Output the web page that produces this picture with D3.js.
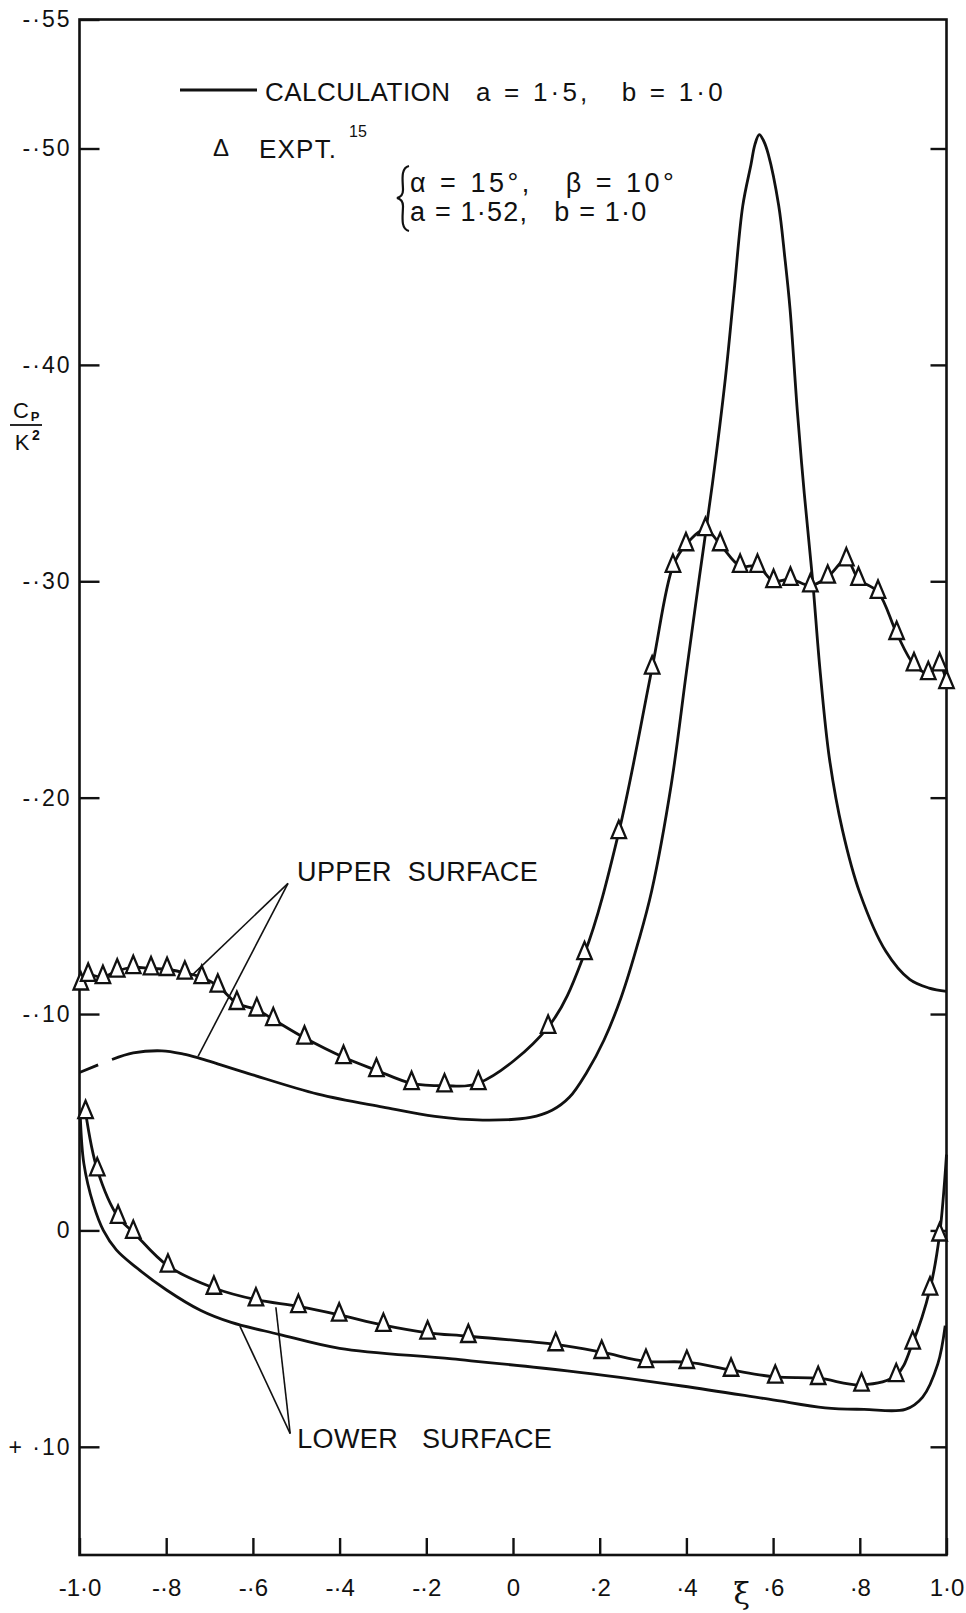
<!DOCTYPE html>
<html>
<head>
<meta charset="utf-8">
<script src="https://cdn.jsdelivr.net/npm/d3@7"></script>
<style>
  body { margin: 0; background: #fff; }
  svg { display: block; }
  text { font-family: "Liberation Sans", "DejaVu Sans", sans-serif; fill: #111; white-space: pre; }
</style>
</head>
<body>
<svg id="chart"></svg>
<script>
// Tick positions and labels, written as on the original drawing.
const xiTicks = [-1.0, -0.8, -0.6, -0.4, -0.2, 0, 0.2, 0.4, 0.6, 0.8, 1.0];
const xiTickLabels = ["-1·0", "-·8", "-·6", "-·4", "-·2", "0", "·2", "·4", "·6", "·8", "1·0"];
const cpTicks = [-0.55, -0.5, -0.4, -0.3, -0.2, -0.1, 0, 0.1];
const cpTickLabels = ["-·55", "-·50", "-·40", "-·30", "-·20", "-·10", "0", "+ ·10"];

// Calculation, upper surface. The null is the break in the drawn line near the leading edge.
const calcUpperXi = [-1.0, -0.957, -0.94, -0.925, -0.876, -0.81, -0.76, -0.73, -0.61, -0.45, -0.30, -0.18, -0.07,
  0.04, 0.09, 0.13, 0.17, 0.21, 0.25, 0.29, 0.32, 0.365, 0.40, 0.43, 0.46, 0.49, 0.51, 0.53, 0.549, 0.558, 0.568,
  0.578, 0.589, 0.613, 0.627, 0.639, 0.656, 0.672, 0.691, 0.708, 0.73, 0.76, 0.80, 0.86, 0.915, 0.96, 1.0];
const calcUpperCp = [-0.073, -0.0765, null, -0.079, -0.082, -0.083, -0.0815, -0.080, -0.0725, -0.063, -0.057, -0.0527, -0.051,
  -0.0522, -0.0555, -0.0615, -0.073, -0.088, -0.108, -0.134, -0.157, -0.206, -0.258, -0.302, -0.345, -0.394, -0.434, -0.4735, -0.4926, -0.5015, -0.5054,
  -0.503, -0.4973, -0.4735, -0.4497, -0.426, -0.3784, -0.3404, -0.3009, -0.2595, -0.218, -0.185, -0.156, -0.129, -0.116, -0.112, -0.1105];

// Calculation, lower surface.
const calcLowerXi = [-0.998, -0.99, -0.968, -0.945, -0.915, -0.87, -0.80, -0.72, -0.65, -0.54, -0.40, -0.14,
  0.125, 0.39, 0.59, 0.72, 0.81, 0.905, 0.945, 0.98, 0.997];
const calcLowerCp = [-0.052, -0.031, -0.012, 0.000, 0.009, 0.017, 0.0274, 0.037, 0.0425, 0.048, 0.0545, 0.0594,
  0.0649, 0.0719, 0.078, 0.082, 0.0827, 0.0827, 0.077, 0.0617, 0.044];

// Experiment (ref. 15), upper surface points.
const exptUpperXi = [-0.997, -0.980, -0.946, -0.913, -0.876, -0.835, -0.798, -0.757, -0.718, -0.681, -0.637, -0.591,
  -0.553, -0.481, -0.391, -0.315, -0.234, -0.158, -0.080, 0.081, 0.165, 0.244, 0.321, 0.369, 0.399, 0.444,
  0.478, 0.524, 0.564, 0.601, 0.640, 0.686, 0.726, 0.769, 0.797, 0.842, 0.885, 0.925, 0.958, 0.984, 1.000];
const exptUpperCp = [-0.114, -0.118, -0.117, -0.120, -0.1216, -0.121, -0.1207, -0.119, -0.117, -0.113, -0.105, -0.102,
  -0.0975, -0.089, -0.080, -0.074, -0.068, -0.0669, -0.068, -0.094, -0.128, -0.184, -0.260, -0.307, -0.317, -0.324,
  -0.317, -0.307, -0.307, -0.300, -0.301, -0.298, -0.302, -0.310, -0.301, -0.295, -0.276, -0.2615, -0.2574, -0.2615, -0.2533];

// Experiment, lower surface points.
const exptLowerXi = [-0.986, -0.959, -0.911, -0.876, -0.796, -0.690, -0.593, -0.495, -0.401, -0.299, -0.197, -0.103,
  0.0985, 0.2046, 0.3067, 0.401, 0.503, 0.605, 0.704, 0.804, 0.884, 0.922, 0.962, 0.984];
const exptLowerCp = [-0.0546, -0.0281, -0.0062, 0.0008, 0.0164, 0.0266, 0.032, 0.0351, 0.039, 0.0438, 0.0473, 0.0489,
  0.0527, 0.0563, 0.0605, 0.0609, 0.0645, 0.0677, 0.0683, 0.0714, 0.067, 0.052, 0.027, 0.002];

// Faired experimental curves: through the points, the lower one runs on up the trailing edge.
const exptUpperFairXi = exptUpperXi;
const exptUpperFairCp = exptUpperCp;
const exptLowerFairXi = exptLowerXi.concat([1.0]);
const exptLowerFairCp = exptLowerCp.concat([-0.035]);

// Leader lines of the two surface notes, in (xi, Cp/K^2): label corner, then the curves they point at.
const upperLeader = [[-0.519, -0.1604], [-0.740, -0.118], [-0.519, -0.1604], [-0.7265, -0.0804]];
const lowerLeader = [[-0.514, 0.0939], [-0.630, 0.0442], [-0.514, 0.0939], [-0.547, 0.0355]];

const pairs = (xs, ys) => xs.map((v, i) => [v, ys[i]]);

// Tall open triangle used for the experimental points.
const tallTriangle = {
  draw(context, size) {
    const h = Math.sqrt(size);
    const w = h * 0.84;
    context.moveTo(0, -h * 2 / 3);
    context.lineTo(w / 2, h / 3);
    context.lineTo(-w / 2, h / 3);
    context.closePath();
  }
};

class CpChart {

  constructor(width, height) {
    this.width = width;
    this.height = height;

    this.svg = d3.select("#chart")
      .attr("width", width)
      .attr("height", height)
      .attr("viewBox", "0 0 " + width + " " + height);

    this.x = d3.scaleLinear().domain([-1, 1]).range([79.5, 946.5]);
    // The top edge carries the -.55 label but sits a bit above the regular spacing,
    // so the scale gets one extra break point at -.50.
    this.y = d3.scaleLinear().domain([-0.55, -0.5, 0.15]).range([19.5, 148.5, 1555]);

    this.line = d3.line()
      .defined(d => d[1] !== null)
      .x(d => this.x(d[0]))
      .y(d => this.y(d[1]))
      .curve(d3.curveCatmullRom.alpha(0.5));
  }

  drawAxes() {
    const x = this.x, y = this.y;

    const left = this.svg.append("g")
      .attr("transform", "translate(" + x(-1) + ",0)")
      .call(d3.axisLeft(y).tickValues(cpTicks)
        .tickFormat((d, i) => cpTickLabels[i])
        .tickSizeInner(-20).tickSizeOuter(0).tickPadding(8));

    const right = this.svg.append("g")
      .attr("transform", "translate(" + x(1) + ",0)")
      .call(d3.axisRight(y).tickValues(cpTicks.slice(1))
        .tickFormat("")
        .tickSizeInner(-16).tickSizeOuter(0));

    const bottom = this.svg.append("g")
      .attr("transform", "translate(0," + y(0.15) + ")")
      .call(d3.axisBottom(x).tickValues(xiTicks)
        .tickFormat((d, i) => xiTickLabels[i])
        .tickSizeInner(-17).tickSizeOuter(0).tickPadding(24));

    [left, right, bottom].forEach(g => {
      g.select(".domain").remove();
      g.selectAll(".tick line").attr("stroke", "#111").attr("stroke-width", 2.4);
      g.selectAll(".tick text").attr("fill", "#111")
        .style("font-family", "\"Liberation Sans\", \"DejaVu Sans\", sans-serif");
    });
    left.selectAll(".tick text").style("font-size", "23px").style("letter-spacing", "2px");
    bottom.selectAll(".tick text").style("font-size", "24px");

    // Frame round the plot.
    this.svg.append("rect")
      .attr("x", x(-1)).attr("y", y(-0.55))
      .attr("width", x(1) - x(-1)).attr("height", y(0.15) - y(-0.55))
      .attr("fill", "none").attr("stroke", "#111").attr("stroke-width", 2.6);

    // xi under the axis, between .4 and .6.
    this.svg.append("text")
      .attr("x", x(0.5) + 12).attr("y", 1604)
      .attr("text-anchor", "middle")
      .style("font-family", "\"DejaVu Serif\", serif")
      .style("font-size", "30px")
      .text("ξ");

    // Cp / K^2 written as a fraction.
    const fx = 26;
    this.svg.append("text").attr("x", fx - 5).attr("y", 418).attr("text-anchor", "middle")
      .style("font-size", "22px").text("C");
    this.svg.append("text").attr("x", fx + 9).attr("y", 421).attr("text-anchor", "middle")
      .style("font-size", "13px").style("font-weight", "bold").text("P");
    this.svg.append("line").attr("x1", 10).attr("x2", 42).attr("y1", 425).attr("y2", 425)
      .attr("stroke", "#111").attr("stroke-width", 1.8);
    this.svg.append("text").attr("x", fx - 4).attr("y", 450).attr("text-anchor", "middle")
      .style("font-size", "22px").text("K");
    this.svg.append("text").attr("x", fx + 10).attr("y", 440).attr("text-anchor", "middle")
      .style("font-size", "14px").style("font-weight", "bold").text("2");
  }

  drawCurves() {
    const curves = [
      pairs(calcUpperXi, calcUpperCp),
      pairs(calcLowerXi, calcLowerCp),
      pairs(exptUpperFairXi, exptUpperFairCp),
      pairs(exptLowerFairXi, exptLowerFairCp)
    ];
    this.svg.append("g")
      .selectAll("path")
      .data(curves)
      .enter()
      .append("path")
      .attr("d", this.line)
      .attr("fill", "none")
      .attr("stroke", "#111")
      .attr("stroke-width", 2.8)
      .attr("stroke-linejoin", "round");
  }

  drawPoints() {
    const pts = pairs(exptUpperXi, exptUpperCp).concat(pairs(exptLowerXi, exptLowerCp));
    this.svg.append("g")
      .selectAll("path")
      .data(pts)
      .enter()
      .append("path")
      .attr("transform", d => "translate(" + this.x(d[0]) + "," + this.y(d[1]) + ")")
      .attr("d", d3.symbol(tallTriangle, 300))
      .attr("fill", "#fff")
      .attr("stroke", "#111")
      .attr("stroke-width", 2.3);
  }

  drawNotes() {
    const x = this.x, y = this.y;

    // Leader lines from the two surface notes.
    [upperLeader, lowerLeader].forEach(seg => {
      for (let i = 0; i < seg.length; i += 2) {
        this.svg.append("line")
          .attr("x1", x(seg[i][0])).attr("y1", y(seg[i][1]))
          .attr("x2", x(seg[i + 1][0])).attr("y2", y(seg[i + 1][1]))
          .attr("stroke", "#111").attr("stroke-width", 1.6);
      }
    });

    this.svg.append("text")
      .attr("x", x(upperLeader[0][0]) + 9).attr("y", y(upperLeader[0][1]) - 2)
      .style("font-size", "27px").style("letter-spacing", "0.4px")
      .text("UPPER  SURFACE");
    this.svg.append("text")
      .attr("x", x(lowerLeader[0][0]) + 7).attr("y", y(lowerLeader[0][1]) + 14)
      .style("font-size", "27px").style("letter-spacing", "0.4px")
      .text("LOWER   SURFACE");
  }

  drawLegend() {
    const g = this.svg.append("g");

    g.append("line").attr("x1", 180).attr("x2", 257).attr("y1", 90).attr("y2", 90)
      .attr("stroke", "#111").attr("stroke-width", 3);
    g.append("text").attr("x", 265).attr("y", 101)
      .style("font-size", "26px").style("letter-spacing", "0.5px").text("CALCULATION");
    g.append("text").attr("x", 476).attr("y", 101)
      .style("font-size", "26px").style("letter-spacing", "3.2px").text("a = 1·5,   b = 1·0");

    g.append("text").attr("x", 221).attr("y", 156).attr("text-anchor", "middle")
      .style("font-size", "24px").text("Δ");
    g.append("text").attr("x", 259).attr("y", 158)
      .style("font-size", "26px").style("letter-spacing", "1.2px").text("EXPT.");
    g.append("text").attr("x", 349).attr("y", 137)
      .style("font-size", "16px").text("15");

    // Brace grouping the two experimental conditions.
    g.append("path")
      .attr("d", "M409,166 C400,168 403,182 403,190 C403,194 401,197 397,198 C401,199 403,202 403,206 C403,215 400,229 409,231")
      .attr("fill", "none").attr("stroke", "#111").attr("stroke-width", 2.2);

    g.append("text").attr("x", 410).attr("y", 192)
      .style("font-size", "27px").style("letter-spacing", "3.5px").text("α = 15°,   β = 10°");
    g.append("text").attr("x", 410).attr("y", 221)
      .style("font-size", "27px").style("letter-spacing", "1.2px").text("a = 1·52,   b = 1·0");
  }

  draw() {
    this.drawAxes();
    this.drawCurves();
    this.drawPoints();
    this.drawNotes();
    this.drawLegend();
  }

}

const chart = new CpChart(966, 1613);
chart.draw();
</script>
</body>
</html>
